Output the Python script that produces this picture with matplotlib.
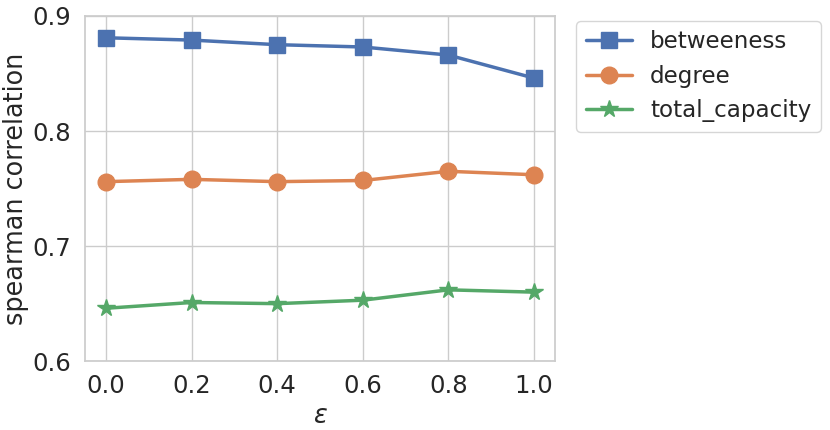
import matplotlib
matplotlib.use("Agg")
import matplotlib.pyplot as plt
import seaborn as sns

sns.set_theme(style="whitegrid", font_scale=1.6)

eps = [0.0, 0.2, 0.4, 0.6, 0.8, 1.0]
betweeness = [0.881, 0.879, 0.875, 0.873, 0.866, 0.846]
degree = [0.756, 0.758, 0.756, 0.757, 0.765, 0.762]
total_capacity = [0.646, 0.651, 0.650, 0.653, 0.662, 0.660]

fig = plt.figure(figsize=(8.3, 4.3), dpi=100)
ax = fig.add_axes([0.102, 0.16, 0.567, 0.803])

ax.plot(eps, betweeness, marker="s", markersize=12, lw=2.5, label="betweeness")
ax.plot(eps, degree, marker="o", markersize=12, lw=2.5, label="degree")
ax.plot(eps, total_capacity, marker="*", markersize=13, lw=2.5, label="total_capacity")

ax.set_ylim(0.6, 0.9)
ax.set_yticks([0.6, 0.7, 0.8, 0.9])
ax.set_xticks(eps)
ax.set_xlabel(r"$\epsilon$", fontsize=18.4, labelpad=3)
ax.set_ylabel("spearman correlation", fontsize=18.4, labelpad=3)
ax.legend(loc="upper left", bbox_to_anchor=(1.045, 0.985), borderaxespad=0,
          fontsize=16.6)

fig.savefig("out.png")
